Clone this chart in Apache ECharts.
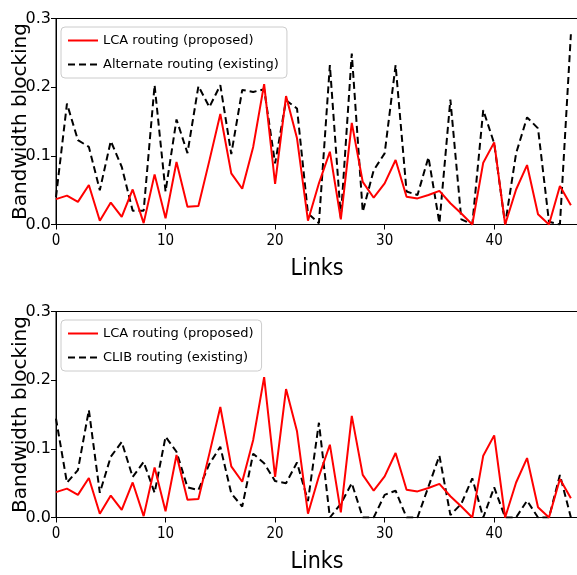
<!DOCTYPE html>
<html>
<head>
<meta charset="utf-8">
<script src="https://cdn.jsdelivr.net/npm/echarts@6/dist/echarts.min.js"></script>
<style>
  html, body { margin: 0; padding: 0; background: #fff; }
  #main { width: 577px; height: 575px; }
</style>
</head>
<body>
<div id="main"></div>
<script>
// link index 0..47
const links = [0,1,2,3,4,5,6,7,8,9,10,11,12,13,14,15,16,17,18,19,20,21,22,23,
  24,25,26,27,28,29,30,31,32,33,34,35,36,37,38,39,40,41,42,43,44,45,46,47];
const lca = [0.037,0.042,0.033,0.0575,0.0055,0.032,0.011,0.051,0.002,0.073,
  0.009,0.091,0.026,0.027,0.093,0.161,0.0745,0.052,0.113,0.2045,
  0.059,0.187,0.1255,0.0055,0.06,0.106,0.0075,0.148,0.062,0.039,
  0.06,0.094,0.0405,0.038,0.043,0.049,0.031,0.016,0.0,0.09,
  0.1196,0.0,0.051,0.0866,0.015,0.0,0.056,0.028];
const alternate = [0.04,0.176,0.123,0.113,0.05,0.1215,0.084,0.02,0.02,0.203,
  0.048,0.153,0.104,0.2015,0.171,0.203,0.1026,0.196,0.193,0.197,
  0.089,0.181,0.169,0.016,0.002,0.232,0.01,0.249,0.0186,0.079,
  0.1036,0.232,0.048,0.043,0.098,0.002,0.182,0.0075,0.0,0.1667,
  0.118,0.0,0.1036,0.156,0.14,0.004,0.0,0.277];
const clib = [0.144,0.0507,0.069,0.1565,0.036,0.0885,0.110,0.059,0.081,0.036,
  0.1176,0.0958,0.044,0.04,0.078,0.103,0.035,0.016,0.093,0.079,
  0.053,0.05,0.08,0.024,0.138,0.0,0.02,0.05,0.0,0.0,
  0.033,0.039,0.0,0.0,0.045,0.09,0.0036,0.02,0.057,0.0,
  0.044,0.0,0.0,0.0245,0.0,0.0,0.062,0.0];
const xTicks = [0, 10, 20, 30, 40];
const yTicks = [0, 0.1, 0.2, 0.3];

const names = ['LCA routing (proposed)', 'Alternate routing (existing)', 'CLIB routing (existing)'];

function pairs(ys) { return links.map((x, i) => [x, ys[i]]); }

const font = 'DejaVu Sans';
const cond = 'DejaVu Sans Condensed, DejaVu Sans';
const grids = [
  { left: 56, right: -1, top: 18.5, height: 206, show: true, borderColor: '#000', borderWidth: 1,
    outerBoundsMode: 'none', containLabel: false },
  { left: 56, right: -1, top: 311.5, height: 206, show: true, borderColor: '#000', borderWidth: 1,
    outerBoundsMode: 'none', containLabel: false }
];

function xAx(idx) {
  return {
    type: 'value', gridIndex: idx, min: 0, max: 47.65,
    name: 'Links', nameLocation: 'middle', nameGap: 33, nameMoveOverlap: false,
    nameTextStyle: { fontFamily: cond, fontSize: 23, color: '#000' },
    axisLine: { show: true, onZero: false, lineStyle: { color: '#000', width: 1 } },
    axisTick: { show: true, length: 5, lineStyle: { color: '#000' }, customValues: xTicks },
    axisLabel: { color: '#000', fontFamily: cond, fontSize: 15, margin: 9, customValues: xTicks },
    splitLine: { show: false }
  };
}
function yAx(idx) {
  return {
    type: 'value', gridIndex: idx, min: 0, max: 0.3, interval: 0.1,
    name: 'Bandwidth blocking', nameLocation: 'middle', nameGap: 25, nameMoveOverlap: false,
    nameTextStyle: { fontFamily: font, fontSize: 20, color: '#000' },
    axisLine: { show: true, lineStyle: { color: '#000', width: 1 } },
    axisTick: { show: true, length: 5, lineStyle: { color: '#000' } },
    axisLabel: { color: '#000', fontFamily: font, fontSize: 16, margin: 5,
      formatter: v => v.toFixed(1) },
    splitLine: { show: false }
  };
}
function legend(top, data) {
  return {
    data: data, orient: 'vertical', left: 61, top: top,
    itemWidth: 30, itemHeight: 14, itemGap: 11,
    padding: [7, 8, 7, 6],
    borderColor: '#cccccc', borderWidth: 1, borderRadius: 4,
    backgroundColor: 'rgba(255,255,255,0.8)',
    itemStyle: { opacity: 0 },
    textStyle: { fontFamily: font, fontSize: 13, color: '#000' }
  };
}
function line(name, ys, idx, color, dashed) {
  return {
    name: name, type: 'line', xAxisIndex: idx, yAxisIndex: idx,
    data: pairs(ys), symbol: 'none', animation: false,
    lineStyle: { color: color, width: 2, type: dashed ? [7, 4] : 'solid' },
    itemStyle: { color: color }
  };
}

const chart = echarts.init(document.getElementById('main'), null, { renderer: 'canvas' });
chart.setOption({
  backgroundColor: '#fff',
  animation: false,
  grid: grids,
  xAxis: [xAx(0), xAx(1)],
  yAxis: [yAx(0), yAx(1)],
  legend: [legend(27, [names[0], names[1]]), legend(320, [names[0], names[2]])],
  series: [
    line(names[1], alternate, 0, '#000', true),
    line(names[0], lca, 0, '#ff0000', false),
    line(names[2], clib, 1, '#000', true),
    line(names[0], lca, 1, '#ff0000', false)
  ]
});
window.addEventListener('resize', chart.resize);
</script>
</body>
</html>
